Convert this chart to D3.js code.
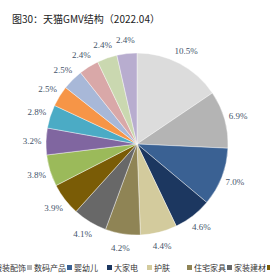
<!DOCTYPE html>
<html>
<head>
<meta charset="utf-8">
<script src="https://cdn.jsdelivr.net/npm/d3@7"></script>
<style>
    body { margin: 0; background: #fff; }
    svg { display: block; }
</style>
</head>
<body>
<div id="chart"></div>
<script>
    'use strict';

    var values = [10.5, 6.9, 7.0, 4.6, 4.4, 4.2, 4.1, 3.9, 3.8, 3.2, 2.8, 2.5, 2.5, 2.4, 2.4, 2.4];
    var colors = ['#dcdcdc', '#b4b4b4', '#3a6193', '#1c3760', '#d3cb9d', '#8f8455', '#686868', '#7a5c06',
        '#9bba5a', '#8066a0', '#4babc5', '#f69547', '#a8b8d8', '#d9a8a8', '#cad8b0', '#b8adcf'];
    var legendNames = ['服装配饰', '数码产品', '婴幼儿', '大家电', '护肤', '住宅家具', '家装建材', '家居'];

    var stage = { width: 270, height: 279 };
    var cx = 137, cy = 144, radius = 91;

    var svg = d3.select('#chart')
        .append('svg')
        .attr('width', stage.width)
        .attr('height', stage.height);

    svg.append('text')
        .attr('x', 12)
        .attr('y', 23)
        .attr('font-family', 'Noto Sans CJK SC')
        .attr('font-size', 10)
        .attr('fill', '#222')
        .text('图30：天猫GMV结构（2022.04）');

    var pie = d3.pie().sort(null).value(function(d) { return d; });
    var arcs = pie(values);
    var arc = d3.arc().innerRadius(0).outerRadius(radius);
    var labelArc = d3.arc().innerRadius(105).outerRadius(105);

    var g = svg.append('g').attr('transform', 'translate(' + cx + ',' + cy + ')');

    g.selectAll('path')
        .data(arcs).enter()
        .append('path')
        .attr('d', arc)
        .attr('fill', function(d, i) { return colors[i]; })
        .attr('stroke', '#fff')
        .attr('stroke-width', 0.4);

    g.selectAll('text')
        .data(arcs).enter()
        .append('text')
        .attr('transform', function(d) { return 'translate(' + labelArc.centroid(d) + ')'; })
        .attr('text-anchor', 'middle')
        .attr('dy', '0.35em')
        .attr('font-family', 'Liberation Serif')
        .attr('font-size', 9)
        .attr('fill', '#44546a')
        .text(function(d) { return d.data.toFixed(1) + '%'; });

    // legend is clipped on both sides, like the original
    var legendX = d3.scaleLinear().domain([0, 1]).range([-13, 27]);
    var legend = svg.append('g')
        .selectAll('g').data(legendNames).enter()
        .append('g')
        .attr('transform', function(d, i) { return 'translate(' + legendX(i) + ',268)'; });

    legend.append('rect')
        .attr('x', 0)
        .attr('y', -3)
        .attr('width', 5)
        .attr('height', 5)
        .attr('fill', function(d, i) { return colors[i]; });

    legend.append('text')
        .attr('x', 7)
        .attr('y', 2.5)
        .attr('font-family', 'Noto Sans CJK SC')
        .attr('font-size', 8)
        .attr('fill', '#333')
        .text(function(d) { return d; });
</script>
</body>
</html>
